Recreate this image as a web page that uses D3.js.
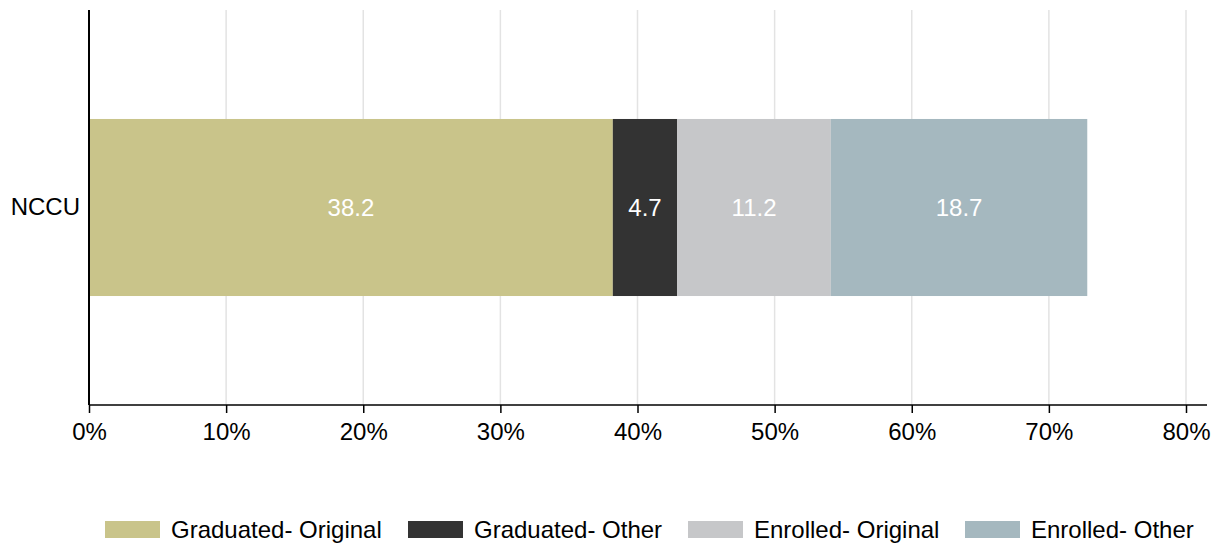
<!DOCTYPE html>
<html>
<head>
<meta charset="utf-8">
<script src="https://cdn.jsdelivr.net/npm/d3@7"></script>
<style>
  body { margin: 0; background: #fff; }
  text { font-family: "Liberation Sans", Arial, sans-serif; }
</style>
</head>
<body>
<div id="chart"></div>
<script>
// Data
const categories = ["NCCU"];
const seriesNames = ["Graduated- Original", "Graduated- Other", "Enrolled- Original", "Enrolled- Other"];
const seriesValues = [[38.2], [4.7], [11.2], [18.7]];
const colors = ["#c9c48a", "#333333", "#c6c7c9", "#a5b8bf"];
const xTicks = [0, 10, 20, 30, 40, 50, 60, 70, 80];

// Dimensions
const width = 1220, height = 544;
const margin = { top: 10, right: 13, bottom: 139, left: 89 };
const innerW = width - margin.left - margin.right;
const innerH = height - margin.top - margin.bottom;
const fontSize = 24;

const svg = d3.select("#chart")
  .append("svg")
    .attr("width", width)
    .attr("height", height);

const g = svg.append("g")
    .attr("transform", `translate(${margin.left},${margin.top})`);

// Scales
const x = d3.scaleLinear()
  .domain([0, 80])
  .range([0, 1097]);

const y = d3.scaleBand()
  .domain(categories)
  .range([0, innerH])
  .paddingInner(0.1)
  .paddingOuter(0.554);

// Gridlines
g.append("g")
  .selectAll("line")
  .data(xTicks.slice(1))
  .join("line")
    .attr("x1", d => x(d))
    .attr("x2", d => x(d))
    .attr("y1", 0)
    .attr("y2", innerH)
    .attr("stroke", "#e3e3e3")
    .attr("stroke-width", 1.5);

// Stacked bars
const rows = categories.map((c, i) => {
  const r = { cat: c };
  seriesNames.forEach((s, j) => r[s] = seriesValues[j][i]);
  return r;
});
const stack = d3.stack().keys(seriesNames)(rows);

stack.forEach((layer, j) => {
  const lg = g.append("g");
  lg.selectAll("rect")
    .data(layer)
    .join("rect")
      .attr("x", d => x(d[0]))
      .attr("y", d => y(d.data.cat))
      .attr("width", d => x(d[1]) - x(d[0]))
      .attr("height", y.bandwidth())
      .attr("fill", colors[j]);
  lg.selectAll("text")
    .data(layer)
    .join("text")
      .attr("x", d => (x(d[0]) + x(d[1])) / 2)
      .attr("y", d => y(d.data.cat) + y.bandwidth() / 2)
      .attr("dy", "0.36em")
      .attr("text-anchor", "middle")
      .attr("fill", "#fff")
      .attr("font-size", fontSize)
      .text(d => (d[1] - d[0]).toFixed(1));
});

// X axis
const xAxis = g.append("g")
  .attr("transform", `translate(0,${innerH})`)
  .call(d3.axisBottom(x)
    .tickValues(xTicks)
    .tickFormat(d => d + "%")
    .tickSize(8)
    .tickPadding(10)
    .tickSizeOuter(0));
xAxis.select(".domain")
  .attr("d", `M0,0H${innerW}`)
  .attr("stroke", "#000")
  .attr("stroke-width", 1.5);
xAxis.selectAll(".tick line").attr("stroke", "#000").attr("stroke-width", 1.5);
xAxis.selectAll(".tick text")
  .attr("font-size", fontSize)
  .attr("font-family", "Liberation Sans, Arial, sans-serif")
  .attr("fill", "#000");

// Y axis
const yAxis = g.append("g")
  .call(d3.axisLeft(y).tickSize(0).tickPadding(9));
yAxis.select(".domain")
  .attr("d", `M0,0V${innerH}`)
  .attr("stroke", "#000")
  .attr("stroke-width", 2);
yAxis.selectAll(".tick text")
  .attr("font-size", fontSize)
  .attr("font-family", "Liberation Sans, Arial, sans-serif")
  .attr("fill", "#000");

// Legend
const legendX = [105, 408, 688, 965];
const legend = svg.append("g")
  .attr("transform", "translate(0,521)");
seriesNames.forEach((s, j) => {
  const item = legend.append("g").attr("transform", `translate(${legendX[j]},0)`);
  item.append("rect")
    .attr("width", 55)
    .attr("height", 17)
    .attr("fill", colors[j]);
  item.append("text")
    .attr("x", 66)
    .attr("y", 8.5)
    .attr("dy", "0.36em")
    .attr("font-size", fontSize)
    .attr("fill", "#000")
    .text(s);
});
</script>
</body>
</html>
